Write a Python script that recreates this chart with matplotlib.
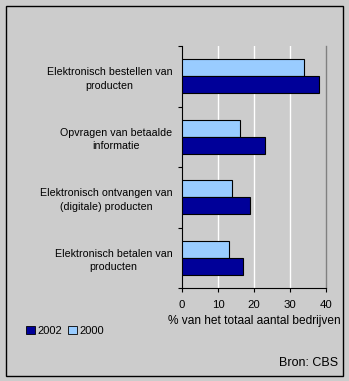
import matplotlib.pyplot as plt
from matplotlib.patches import Patch, Rectangle

categories = [
    "Elektronisch bestellen van\nproducten",
    "Opvragen van betaalde\ninformatie",
    "Elektronisch ontvangen van\n(digitale) producten",
    "Elektronisch betalen van\nproducten",
]
values_2000 = [34, 16, 14, 13]
values_2002 = [38, 23, 19, 17]
x_ticks = [0, 10, 20, 30, 40]

DARK = "#000099"
LIGHT = "#99CCFF"
GREY = "#CCCCCC"

W, H = 349, 381
plt.rcParams["font.family"] = ["Liberation Sans", "DejaVu Sans"]
plt.rcParams["font.size"] = 7.7

fig = plt.figure(figsize=(W / 100, H / 100), dpi=100, facecolor=GREY)
ax = fig.add_axes([182 / W, 1 - 288 / H, (326 - 182) / W, (288 - 46) / H])
ax.set_facecolor(GREY)

pos = list(range(len(categories)))
h = 0.28
ax.barh([p - h / 2 for p in pos], values_2000, height=h, color=LIGHT,
        edgecolor="black", linewidth=0.8, zorder=3)
ax.barh([p + h / 2 for p in pos], values_2002, height=h, color=DARK,
        edgecolor="black", linewidth=0.8, zorder=3)

ax.set_ylim(len(categories) - 0.5, -0.5)
ax.set_xlim(0, 40)

# white gridlines, grey line at the end of the scale
for v in x_ticks[1:-1]:
    ax.axvline(v, color="white", linewidth=1, zorder=1)
ax.spines["top"].set_visible(False)
ax.spines["right"].set_color("#808080")
ax.spines["right"].set_linewidth(1)
ax.spines["left"].set_linewidth(0.8)
ax.spines["bottom"].set_linewidth(0.8)

ax.set_xticks(x_ticks)
ax.tick_params(axis="x", direction="out", length=3, width=0.8, pad=6,
               labelsize=8.2)
ax.set_yticks(pos)
ax.set_yticklabels(categories, linespacing=1.45)
ax.set_yticks([p - 0.5 for p in range(len(categories) + 1)], minor=True)
ax.tick_params(axis="y", which="major", length=0, pad=7)
ax.tick_params(axis="y", which="minor", direction="out", length=3, width=0.8)
for lbl in ax.get_yticklabels():
    lbl.set_multialignment("center")

ax.set_xlabel("% van het totaal aantal bedrijven", labelpad=3, fontsize=8.6)

handles = [Patch(facecolor=DARK, edgecolor="black", linewidth=0.6),
           Patch(facecolor=LIGHT, edgecolor="black", linewidth=0.6)]
fig.legend(handles, ["2002", "2000"], loc="center left",
           bbox_to_anchor=(26 / W, 1 - 331 / H), ncol=2, frameon=False,
           handlelength=0.8, handleheight=0.8, handletextpad=0.25,
           columnspacing=0.5, borderpad=0, borderaxespad=0, fontsize=8)

fig.text(338 / W, 1 - 363 / H, "Bron: CBS", ha="right", va="center", fontsize=9)

fig.patches.append(Rectangle((5.5 / W, 1 - 375.5 / H), 337 / W, 370 / H,
                             transform=fig.transFigure, fill=False,
                             edgecolor="black", linewidth=1))

fig.savefig("out.png", dpi=100, facecolor=GREY)
